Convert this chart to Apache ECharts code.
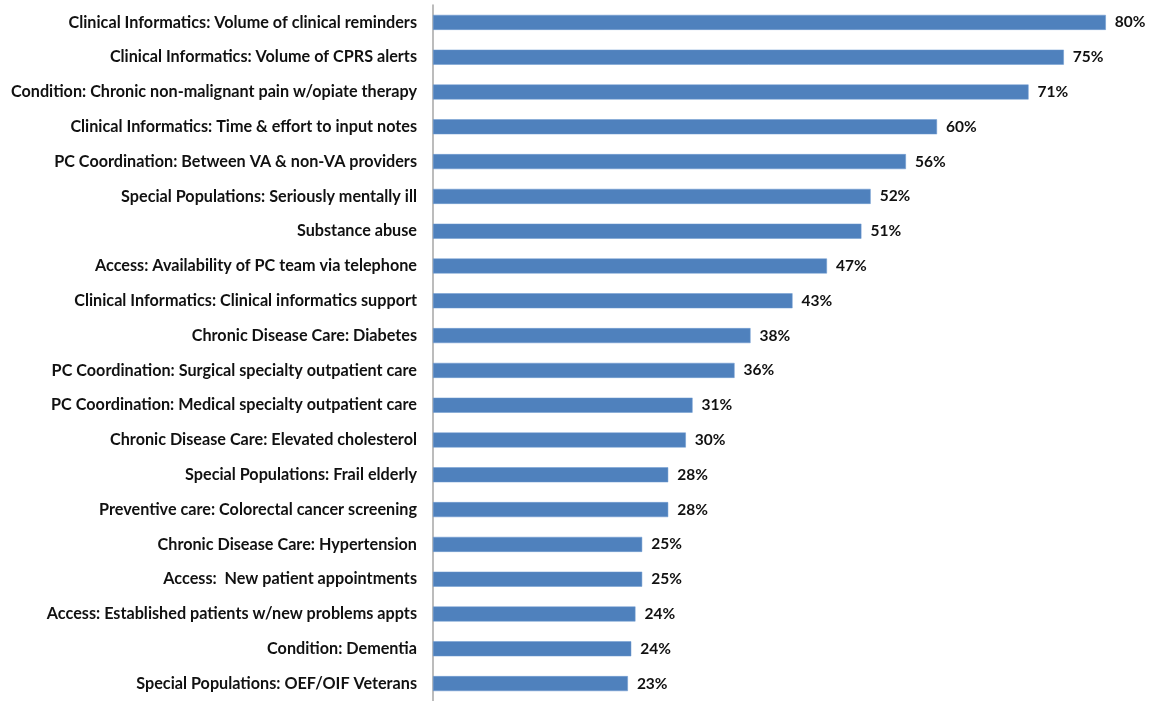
<!DOCTYPE html>
<html><head><meta charset="utf-8">
<script src="https://cdn.jsdelivr.net/npm/echarts@6/dist/echarts.min.js"></script>
<style>html,body{margin:0;padding:0;background:#fff}#c{width:1153px;height:701px}</style>
</head><body><div id="c"></div>
<script>
const categories = [
  "Clinical Informatics: Volume of clinical reminders",
  "Clinical Informatics: Volume of CPRS alerts",
  "Condition: Chronic non-malignant pain w/opiate therapy",
  "Clinical Informatics: Time & effort to input notes",
  "PC Coordination: Between VA & non-VA providers",
  "Special Populations: Seriously mentally ill",
  "Substance abuse",
  "Access: Availability of PC team via telephone",
  "Clinical Informatics: Clinical informatics support",
  "Chronic Disease Care: Diabetes",
  "PC Coordination: Surgical specialty outpatient care",
  "PC Coordination: Medical specialty outpatient care",
  "Chronic Disease Care: Elevated cholesterol",
  "Special Populations: Frail elderly",
  "Preventive care: Colorectal cancer screening",
  "Chronic Disease Care: Hypertension",
  "Access:  New patient appointments",
  "Access: Established patients w/new problems appts",
  "Condition: Dementia",
  "Special Populations: OEF/OIF Veterans"
];
const values = [80.1, 75.1, 70.9, 60.0, 56.3, 52.1, 51.0, 46.9, 42.8, 37.8, 35.9, 30.9, 30.1, 28.0, 28.0, 24.9, 24.9, 24.1, 23.6, 23.2];
const valueLabels = ["80%","75%","71%","60%","56%","52%","51%","47%","43%","38%","36%","31%","30%","28%","28%","25%","25%","24%","24%","23%"];

const chart = echarts.init(document.getElementById('c'));
chart.setOption({
  animation: false,
  grid: { left: 433, top: 5, width: 714, height: 700, containLabel: false },
  xAxis: { type: 'value', min: 0, max: 85, show: false },
  yAxis: {
    type: 'category', inverse: true, data: categories,
    axisLine: { show: true, lineStyle: { color: '#a6a6a6', width: 1.5 } },
    axisTick: { show: false },
    axisLabel: { margin: 16, color: '#111', fontFamily: 'Lato', fontWeight: 'bold', fontSize: 16.2 }
  },
  series: [{
    type: 'bar', data: values, barWidth: 15,
    itemStyle: { color: '#4f81bd', borderColor: '#6f9bd1', borderWidth: 0.5 },
    label: { show: true, position: 'right', distance: 9,
      formatter: p => valueLabels[p.dataIndex],
      color: '#111', fontFamily: 'Lato', fontWeight: 'bold', fontSize: 15.5 }
  }]
});
</script></body></html>
